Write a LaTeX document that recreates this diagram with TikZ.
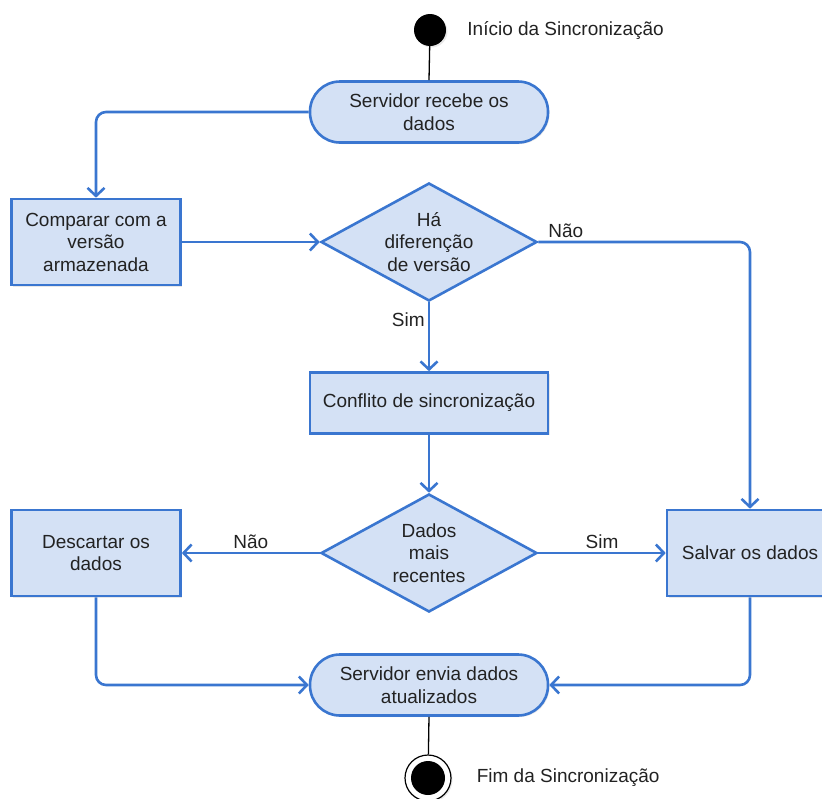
\documentclass[tikz,border=0pt]{standalone}
\usepackage{fontspec}
\setmainfont{Liberation Sans}
\usetikzlibrary{arrows.meta,positioning,shapes.geometric,shadows}
\definecolor{Ink}{HTML}{222222}
\definecolor{Lane}{HTML}{3A76D0}
\definecolor{Sky}{HTML}{D4E1F5}
\tikzset{
  every node/.style={font=\fontsize{19}{22.5}\selectfont, text=Ink},
  softshadow/.style={drop shadow={opacity=0.18, shadow xshift=1.5pt, shadow yshift=-1.5pt}},
  action/.style={
    rectangle, draw=Lane, line width=2.6pt, fill=Sky, softshadow,
    minimum width=169pt, minimum height=86pt, align=center, inner sep=2pt
  },
  pill/.style={
    rectangle, rounded corners=30pt, draw=Lane, line width=2.6pt, fill=Sky, softshadow,
    minimum width=238pt, minimum height=61pt, align=center, inner sep=2pt
  },
  decision/.style={
    diamond, aspect=1.83, draw=Lane, line width=2.6pt, fill=Sky,
    minimum width=216pt, minimum height=118pt, align=center, inner sep=0pt
  },
  initial/.style={circle, fill=black, minimum size=32pt, inner sep=0pt, softshadow},
  final/.style={circle, draw=black, line width=1.2pt, fill=white, minimum size=46pt,
    inner sep=0pt, softshadow,
    path picture={\fill[black] (path picture bounding box.center) circle (17pt);}},
  note/.style={inner sep=2pt},
  guard/.style={inner sep=3pt},
  flow/.style={-{Straight Barb[length=8pt,width=17pt]}, line width=2.6pt, draw=Lane, rounded corners=10pt},
  wire/.style={line width=1.3pt, draw=black}
}
\begin{document}
\begin{tikzpicture}[x=1pt,y=-1pt]
  \useasboundingbox (0,0) rectangle (822,798);
  % nodes
  \node[initial] (start) at (430,30) {};
  \node[note,right=19pt of start,yshift=-1pt] (startlbl) {Início da Sincronização};
  \node[pill] (recv) at (429,112) {Servidor recebe os\\dados};
  \node[action] (compare) at (96,242) {Comparar com a\\versão\\armazenada};
  \node[decision] (diffver) at (429,242) {Há\\diferenção\\de versão};
  \node[action,minimum width=238pt,minimum height=61pt] (conflict) at (429,403) {Conflito de sincronização};
  \node[decision] (newer) at (429,553) {Dados\\mais\\recentes};
  \node[action] (discard) at (96,553) {Descartar os\\dados};
  \node[action,minimum width=166pt] (save) at (750,553) {Salvar os dados};
  \node[pill] (send) at (429,685) {Servidor envia dados\\atualizados};
  \node[final] (stop) at (428,778) {};
  \node[note,right=23pt of stop] (stoplbl) {Fim da Sincronização};
  % connectors
  \draw[wire] (start) -- (recv.north);
  \draw[flow] (recv.west) -| (compare.north);
  \draw[flow] (compare.east) -- (diffver.west);
  \draw[flow] (diffver.east) -| node[guard,pos=0.065,above] {Não} (save.north);
  \draw[flow] (diffver.south) -- node[guard,pos=0.25,left] {Sim} (conflict.north);
  \draw[flow] (conflict.south) -- (newer.north);
  \draw[flow] (newer.west) -- node[guard,above] {Não} (discard.east);
  \draw[flow] (newer.east) -- node[guard,above] {Sim} (save.west);
  \draw[flow] (discard.south) |- (send.west);
  \draw[flow] (save.south) |- (send.east);
  \draw[wire] (send.south) -- (stop);
\end{tikzpicture}
\end{document}
